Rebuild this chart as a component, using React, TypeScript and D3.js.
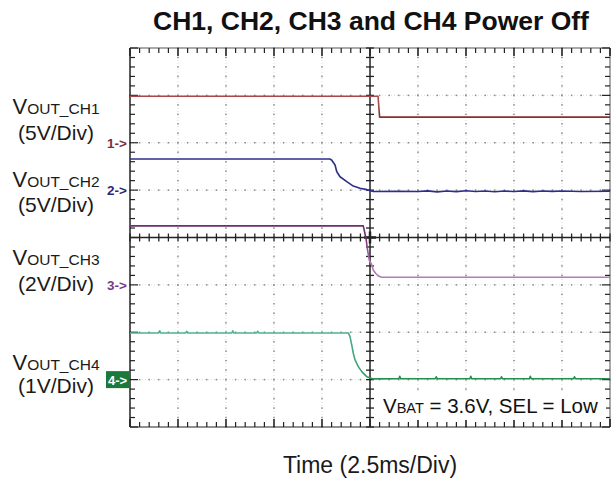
import React from 'react';
import * as d3 from 'd3';

// ---------- data ----------
const titleText = 'CH1, CH2, CH3 and CH4 Power Off';
const xLabelText = 'Time (2.5ms/Div)';
const timeDomain = [-12.5, 12.5]; // ms, 2.5 ms/div, 10 divisions
const divDomain = [-4, 4]; // 8 vertical divisions

const channelIds = ['1', '2', '3', '4'];
const channelNames = ['CH1', 'CH2', 'CH3', 'CH4'];
const scaleLabels = ['(5V/Div)', '(5V/Div)', '(2V/Div)', '(1V/Div)'];
const voltsPerDiv = [5, 5, 2, 1];
const refDivs = [2, 1, -1, -3];

// CH1 (V)
const ch1Time = [-12.5, 0.42, 0.5, 12.5];
const ch1Volt = [4.9, 4.9, 2.7, 2.7];

// CH2 (V)
const ch2Time = [-12.5, -2.1, -2.0, -1.82, -1.73, -1.56, -1.21, -0.87, -0.52, -0.17, 0.17, 1.5, 2.5, 3.0, 3.5, 4.0, 4.5, 5.0, 5.5, 6.0, 6.5, 7.0, 7.5, 8.0, 8.5, 9.0, 9.5, 10.0, 11.0, 12.5];
const ch2Volt = [3.28, 3.28, 3.18, 2.65, 1.94, 1.41, 0.89, 0.43, 0.19, 0.05, -0.15, -0.12, -0.15, -0.08, -0.18, -0.1, -0.16, -0.07, -0.14, -0.09, -0.17, -0.1, -0.15, -0.08, -0.16, -0.1, -0.13, -0.09, -0.14, -0.12];

// CH3 (V)
const ch3Time = [-12.5, -0.35, -0.3, -0.21, -0.14, -0.04, 0.09, 0.17, 0.3, 0.45, 0.6, 12.5];
const ch3Volt = [2.49, 2.49, 2.3, 1.97, 1.54, 1.05, 0.85, 0.63, 0.48, 0.37, 0.32, 0.32];

// CH4 (V)
const ch4Time = [-12.5, -11.0, -10.95, -10.9, -9.6, -9.55, -9.5, -7.2, -7.15, -7.1, -5.9, -5.85, -5.8, -1.13, -1.04, -0.95, -0.87, -0.78, -0.61, -0.43, -0.17, 0.17, 1.5, 1.55, 1.6, 3.4, 3.45, 3.5, 5.2, 5.25, 5.3, 6.8, 6.85, 6.9, 8.3, 8.35, 8.4, 10.6, 10.65, 10.7, 12.5];
const ch4Volt = [0.985, 0.985, 1.03, 0.985, 0.985, 1.02, 0.985, 0.985, 1.03, 0.985, 0.985, 1.02, 0.985, 0.985, 0.907, 0.73, 0.557, 0.416, 0.274, 0.169, 0.063, 0.015, 0.02, 0.07, 0.02, 0.02, 0.06, 0.02, 0.02, 0.07, 0.02, 0.02, 0.06, 0.02, 0.02, 0.07, 0.02, 0.02, 0.06, 0.02, 0.02];

const annotationParts = ['V', 'BAT', ' = 3.6V, SEL = Low'];

// ---------- styles ----------
const traceColors = ['url(#g1)', '#2e2e8a', 'url(#g3)', 'url(#g4)'];
const markerColors = ['#7a2d3d', '#2a2a70', '#7a3a8a', '#1a7a3e'];
const FONT = '"Liberation Sans", Arial, Helvetica, sans-serif';

export default function App() {
  const W = 611;
  const H = 481;
  const left = 130, right = 610, top = 48, bottom = 427;
  const x = d3.scaleLinear().domain(timeDomain).range([left, right]);
  const yd = d3.scaleLinear().domain(divDomain).range([bottom, top]);
  const cx = x(0);
  const cy = yd(0);

  const series = [
    d3.zip(ch1Time, ch1Volt),
    d3.zip(ch2Time, ch2Volt),
    d3.zip(ch3Time, ch3Volt),
    d3.zip(ch4Time, ch4Volt),
  ];

  const majorX = d3.range(-12.5, 12.5 + 0.001, 2.5);
  const majorY = d3.range(-4, 4.001, 1);
  const minorX = d3.range(-12.5, 12.5 + 0.001, 0.5);
  const minorY = d3.range(-4, 4.001, 0.2);

  const gridDotColor = '#8a8a8a';
  const gridLight = '#dcdcdc';
  const axisColor = '#222';

  const labelBase = [114, 187, 265, 370];
  const label2Base = [140, 212, 291, 393];

  return (
    <svg width={W} height={H} style={{ position: 'absolute', left: 0, top: 0, background: '#fff' }} fontFamily={FONT}>
      <defs>
        <linearGradient id="g1" gradientUnits="userSpaceOnUse" x1="0" y1="90" x2="0" y2="120">
          <stop offset="0" stopColor="#a84a4a" />
          <stop offset="0.5" stopColor="#a84a4a" />
          <stop offset="0.8" stopColor="#8a2e2e" />
          <stop offset="1" stopColor="#8a2e2e" />
        </linearGradient>
        <linearGradient id="g3" gradientUnits="userSpaceOnUse" x1="0" y1="222" x2="0" y2="280">
          <stop offset="0" stopColor="#6b2f6b" />
          <stop offset="0.25" stopColor="#6b2f6b" />
          <stop offset="0.7" stopColor="#b57ab9" />
          <stop offset="1" stopColor="#b57ab9" />
        </linearGradient>
        <linearGradient id="g4" gradientUnits="userSpaceOnUse" x1={x(-1.5)} y1="0" x2={x(0.5)} y2="0">
          <stop offset="0" stopColor="#4db395" />
          <stop offset="1" stopColor="#24904f" />
        </linearGradient>
      </defs>
      <rect x={0} y={0} width={W} height={H} fill="#fff" />

      {/* title */}
      <text x={371} y={30} textAnchor="middle" fontSize={26.5} fontWeight="bold" fill="#111">{titleText}</text>

      {/* dotted grid */}
      {majorX.filter(v => v !== 0 && v > -12.5 && v < 12.5).map((v, i) => (
        <g key={'gx' + i}>
          <line x1={x(v)} x2={x(v)} y1={top} y2={bottom} stroke={gridLight} strokeWidth={1} strokeDasharray="1 2" />
          {minorY.map((m, j) => (
            <rect key={j} x={x(v) - 0.75} y={yd(m) - 0.75} width={1.5} height={1.5} fill={gridDotColor} />
          ))}
        </g>
      ))}
      {majorY.filter(v => v !== 0 && v > -4 && v < 4).map((v, i) => (
        <g key={'gy' + i}>
          <line x1={left} x2={right} y1={yd(v)} y2={yd(v)} stroke={gridLight} strokeWidth={1} strokeDasharray="1 2" />
          {minorX.map((m, j) => (
            <rect key={j} x={x(m) - 0.75} y={yd(v) - 0.75} width={1.5} height={1.5} fill={gridDotColor} />
          ))}
        </g>
      ))}

      {/* frame */}
      <line x1={left} x2={right} y1={top} y2={top} stroke="#555" strokeWidth={1.2} />
      <line x1={left} x2={right} y1={bottom} y2={bottom} stroke={axisColor} strokeWidth={1.2} />
      <line x1={left} x2={left} y1={top} y2={bottom} stroke={axisColor} strokeWidth={1.5} />
      <line x1={right} x2={right} y1={top} y2={bottom} stroke="#555" strokeWidth={1} />

      {/* edge ticks */}
      {minorX.map((m, j) => {
        const major = Math.abs(m / 2.5 - Math.round(m / 2.5)) < 1e-6;
        const len = major ? 8 : 5;
        return (
          <g key={'ex' + j}>
            <line x1={x(m)} x2={x(m)} y1={top} y2={top + len} stroke={axisColor} strokeWidth={major ? 1.6 : 1.2} />
            <line x1={x(m)} x2={x(m)} y1={bottom} y2={bottom - len} stroke={axisColor} strokeWidth={major ? 1.6 : 1.2} />
          </g>
        );
      })}
      {minorY.map((m, j) => {
        const major = Math.abs(m - Math.round(m)) < 1e-6;
        const len = major ? 8 : 5;
        return (
          <g key={'ey' + j}>
            <line x1={left} x2={left + len} y1={yd(m)} y2={yd(m)} stroke={axisColor} strokeWidth={1.2} />
            <line x1={right} x2={right - len} y1={yd(m)} y2={yd(m)} stroke={axisColor} strokeWidth={1.2} />
          </g>
        );
      })}

      {/* center crosshair */}
      <line x1={left} x2={right} y1={cy} y2={cy} stroke={axisColor} strokeWidth={1.5} />
      <line x1={cx} x2={cx} y1={top} y2={bottom} stroke={axisColor} strokeWidth={1.5} />
      {minorX.map((m, j) => (
        <line key={'cx' + j} x1={x(m)} x2={x(m)} y1={cy - 4} y2={cy + 4} stroke={axisColor} strokeWidth={1.3} />
      ))}
      {minorY.map((m, j) => (
        <line key={'cy' + j} x1={cx - 4} x2={cx + 4} y1={yd(m)} y2={yd(m)} stroke={axisColor} strokeWidth={1.3} />
      ))}
      <line x1={cx - 6} x2={cx + 6} y1={cy} y2={cy} stroke={axisColor} strokeWidth={2.5} />
      <line x1={cx} x2={cx} y1={cy - 6} y2={cy + 6} stroke={axisColor} strokeWidth={2.5} />

      {/* annotation box */}
      <rect x={378} y={391} width={228} height={29} fill="#fff" />
      <text x={383} y={413} fontSize={20.5} fill="#111">
        <tspan>{annotationParts[0]}</tspan>
        <tspan fontSize={14.5}>{annotationParts[1]}</tspan>
        <tspan>{annotationParts[2]}</tspan>
      </text>

      {/* traces */}
      {series.map((s, i) => {
        const line = d3.line<[number, number]>()
          .x(d => x(d[0]))
          .y(d => yd(refDivs[i] + d[1] / voltsPerDiv[i]))
          .curve(d3.curveLinear);
        return (
          <path key={'tr' + i} d={line(s as [number, number][]) || ''} fill="none"
            stroke={traceColors[i]} strokeWidth={1.6} strokeLinejoin="round" />
        );
      })}

      {/* reference markers */}
      {channelIds.map((id, i) => {
        const yy = yd(refDivs[i]);
        if (i === 3) {
          return (
            <g key={'m' + i}>
              <rect x={106} y={yy - 8.5} width={23} height={17} fill={markerColors[i]} />
              <text x={108} y={yy + 5} fontSize={13} fontWeight="bold" fill="#fff">{id + '->'}</text>
            </g>
          );
        }
        return (
          <text key={'m' + i} x={127} y={yy + 5} textAnchor="end" fontSize={13.5} fontWeight="bold" fill={markerColors[i]}>{id + '->'}</text>
        );
      })}

      {/* channel labels */}
      {channelNames.map((n, i) => (
        <g key={'lab' + i}>
          <text x={56} y={labelBase[i]} textAnchor="middle" fontSize={22} fill="#1a1a1a">
            <tspan>V</tspan>
            <tspan fontSize={15.5}>{'OUT_' + n}</tspan>
          </text>
          <text x={56} y={label2Base[i]} textAnchor="middle" fontSize={21} fill="#1a1a1a">{scaleLabels[i]}</text>
        </g>
      ))}

      {/* x label */}
      <text x={370} y={473} textAnchor="middle" fontSize={23} fill="#1a1a1a">{xLabelText}</text>
    </svg>
  );
}
